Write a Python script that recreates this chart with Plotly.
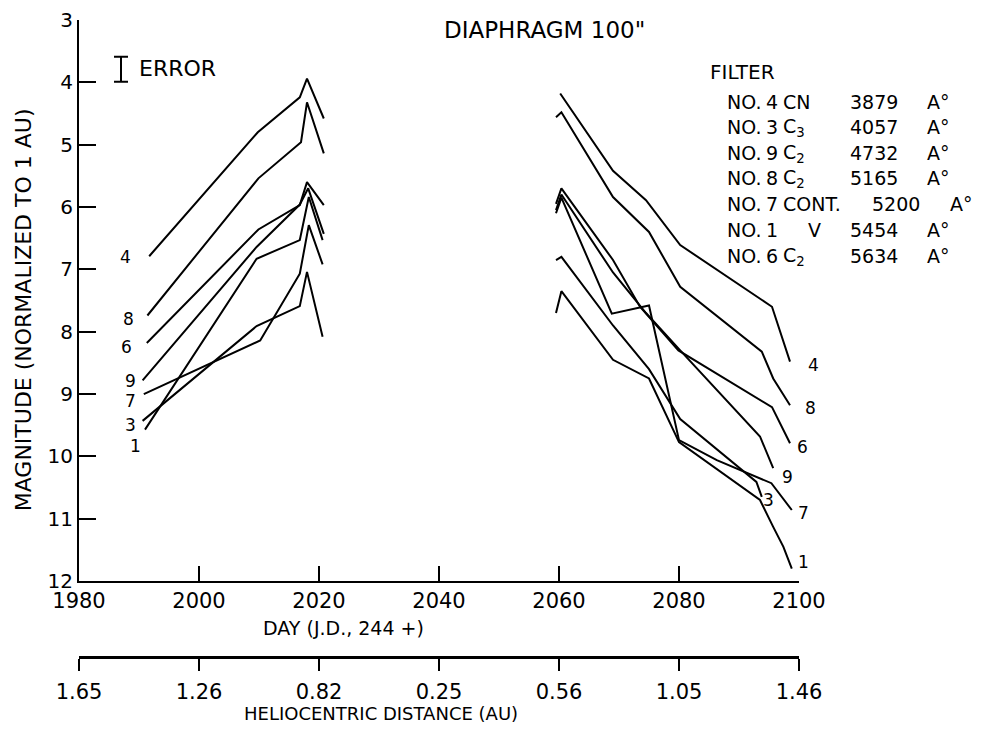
import plotly.graph_objects as go

# ---------------- data ----------------
filters = ["4", "8", "6", "9", "7", "3", "1"]

# pre-perihelion branch (day = J.D. - 2440000)
day_a_4 = [1991.7, 2009.8, 2016.8, 2018.0, 2020.8]
mag_a_4 = [6.79, 4.80, 4.24, 3.94, 4.58]
day_a_8 = [1991.4, 2009.9, 2017.0, 2018.0, 2020.8]
mag_a_8 = [7.74, 5.54, 4.96, 4.32, 5.14]
day_a_6 = [1991.3, 2009.9, 2016.8, 2018.0, 2020.8]
mag_a_6 = [8.18, 6.36, 5.97, 5.60, 5.97]
day_a_9 = [1990.6, 2009.6, 2016.8, 2018.2, 2020.8]
mag_a_9 = [8.78, 6.64, 5.96, 5.70, 6.43]
day_a_7 = [1990.8, 2010.2, 2016.8, 2018.3, 2020.6]
mag_a_7 = [9.00, 8.14, 7.07, 6.29, 6.92]
day_a_3 = [1990.6, 2009.6, 2016.8, 2018.0, 2020.6]
mag_a_3 = [9.43, 7.91, 7.59, 7.04, 8.08]
day_a_1 = [1991.0, 2009.6, 2016.8, 2018.3, 2020.6]
mag_a_1 = [9.57, 6.83, 6.53, 5.84, 6.53]

# post-perihelion branch
day_b_4 = [2060.2, 2069.0, 2074.5, 2080.2, 2095.5, 2098.5]
mag_b_4 = [4.18, 5.42, 5.89, 6.61, 7.60, 8.48]
day_b_8 = [2059.5, 2060.4, 2069.0, 2075.0, 2080.2, 2093.8, 2095.7, 2098.5]
mag_b_8 = [4.56, 4.48, 5.84, 6.40, 7.28, 8.32, 8.75, 9.18]
day_b_6 = [2059.5, 2060.4, 2069.0, 2073.5, 2079.9, 2095.5, 2098.5]
mag_b_6 = [5.95, 5.70, 6.85, 7.60, 8.30, 9.21, 9.79]
day_b_9 = [2059.5, 2060.4, 2069.0, 2074.5, 2080.2, 2093.5, 2095.7]
mag_b_9 = [6.05, 5.80, 7.05, 7.70, 8.30, 9.68, 10.19]
day_b_7 = [2059.5, 2060.4, 2068.8, 2075.0, 2080.0, 2086.3, 2095.4, 2098.8]
mag_b_7 = [6.10, 5.85, 7.71, 7.58, 9.74, 10.06, 10.43, 10.86]
day_b_3 = [2059.5, 2060.4, 2069.0, 2075.0, 2080.2, 2092.9, 2093.8]
mag_b_3 = [6.85, 6.80, 7.90, 8.60, 9.40, 10.41, 10.65]
day_b_1 = [2059.5, 2060.4, 2069.0, 2075.0, 2080.0, 2093.5, 2095.7, 2097.4, 2098.8]
mag_b_1 = [7.70, 7.35, 8.45, 8.75, 9.77, 10.70, 11.13, 11.45, 11.80]

day_ticks = [1980, 2000, 2020, 2040, 2060, 2080, 2100]
helio_labels = ["1.65", "1.26", "0.82", "0.25", "0.56", "1.05", "1.46"]
mag_ticks = [3, 4, 5, 6, 7, 8, 9, 10, 11, 12]

legend_no = ["4", "3", "9", "8", "7", "1", "6"]
legend_species = ["CN", "C<sub>3</sub>", "C<sub>2</sub>", "C<sub>2</sub>", "CONT.", "V", "C<sub>2</sub>"]
legend_wavelength = ["3879", "4057", "4732", "5165", "5200", "5454", "5634"]

error_day = [1987.0]
error_mag = [3.79]
error_half = [0.2]

# ---------------- figure ----------------
FONT = "DejaVu Sans"
INK = "black"

series_a = {
    "4": (day_a_4, mag_a_4), "8": (day_a_8, mag_a_8), "6": (day_a_6, mag_a_6),
    "9": (day_a_9, mag_a_9), "7": (day_a_7, mag_a_7), "3": (day_a_3, mag_a_3),
    "1": (day_a_1, mag_a_1),
}
series_b = {
    "4": (day_b_4, mag_b_4), "8": (day_b_8, mag_b_8), "6": (day_b_6, mag_b_6),
    "9": (day_b_9, mag_b_9), "7": (day_b_7, mag_b_7), "3": (day_b_3, mag_b_3),
    "1": (day_b_1, mag_b_1),
}

W, H = 981, 734
OFF = 8                      # page body margin of the html page
ML, MR, MT, MB = 79 - OFF, 182 + OFF, 19.5 - OFF, 50
plot_bottom = 581 - OFF
paper_w = W - ML - MR
paper_h = H - MT - MB
ydom0 = (H - MB - plot_bottom) / paper_h
helio_pos = (H - MB - (657 - OFF)) / paper_h


def px(xpage):
    return (xpage - OFF - ML) / paper_w


def py(ypage):
    return (H - MB - (ypage - OFF)) / paper_h


fig = go.Figure()
for f in filters:
    xa, ya = series_a[f]
    xb, yb = series_b[f]
    fig.add_trace(go.Scatter(
        x=list(xa) + [None] + list(xb),
        y=list(ya) + [None] + list(yb),
        mode="lines", line=dict(color=INK, width=2),
        showlegend=False, hoverinfo="skip", connectgaps=False,
    ))

# error bar symbol
fig.add_trace(go.Scatter(
    x=error_day, y=error_mag, mode="markers",
    marker=dict(size=1, color=INK),
    error_y=dict(type="data", array=error_half, color=INK, thickness=2, width=7),
    showlegend=False, hoverinfo="skip",
))

# dummy trace on the second (heliocentric) axis
fig.add_trace(go.Scatter(x=[day_ticks[0]], y=[None], xaxis="x2", yaxis="y",
                         showlegend=False, hoverinfo="skip"))

ann = []


def txt(xpage, ypage, s, size=19, xanchor="center", yanchor="middle", angle=0):
    ann.append(dict(x=px(xpage), y=py(ypage), xref="paper", yref="paper", text=s,
                    showarrow=False, font=dict(family=FONT, size=size, color=INK),
                    xanchor=xanchor, yanchor=yanchor, textangle=angle))


# line labels (pixel positions of the hand lettering)
left_lab = {"4": (125, 257), "8": (128, 319), "6": (126, 347), "9": (130, 381),
            "7": (130, 401), "3": (130, 425), "1": (135, 446)}
right_lab = {"4": (813, 365), "8": (810, 408), "6": (802, 447), "9": (787, 477),
             "3": (768, 500), "7": (803, 513), "1": (803, 562)}
for f in filters:
    txt(*left_lab[f], f, size=17)
    txt(*right_lab[f], f, size=17)

txt(544, 30, 'DIAPHRAGM 100"', size=23)
txt(137, 68, "ERROR", size=22, xanchor="left")
txt(708, 72, "FILTER", size=20, xanchor="left")

row_y = [102, 127, 153, 178, 204, 230, 256]
for i in range(len(legend_no)):
    yy = row_y[i]
    txt(725, yy, "NO.", size=19, xanchor="left")
    txt(764, yy, legend_no[i], size=19, xanchor="left")
    sx = 806 if legend_species[i] == "V" else 781
    txt(sx, yy, legend_species[i], size=19, xanchor="left")
    cont = legend_species[i] == "CONT."
    txt(870 if cont else 848, yy, legend_wavelength[i], size=19, xanchor="left")
    txt(948 if cont else 925, yy, "A°", size=19, xanchor="left")

# axis titles
txt(23, 310, "MAGNITUDE (NORMALIZED TO 1 AU)", size=22, angle=-90)
txt(343, 628, "DAY (J.D., 244 +)", size=19)
txt(381, 714, "HELIOCENTRIC DISTANCE (AU)", size=18)

fig.update_layout(
    width=W, height=H,
    margin=dict(l=ML, r=MR, t=MT, b=MB, autoexpand=False),
    paper_bgcolor="white", plot_bgcolor="white",
    font=dict(family=FONT, color=INK, size=19),
    annotations=ann,
    xaxis=dict(
        range=[1980, 2100], tickvals=day_ticks, ticktext=[str(d) for d in day_ticks],
        ticks="inside", ticklen=15, tickwidth=2, tickcolor=INK,
        showline=True, linecolor=INK, linewidth=2, showgrid=False, zeroline=False,
        tickfont=dict(family=FONT, size=21, color=INK),
        anchor="y", automargin=False,
    ),
    xaxis2=dict(
        range=[1980, 2100], tickvals=day_ticks, ticktext=helio_labels,
        overlaying="x", side="bottom", anchor="free", position=helio_pos,
        ticks="outside", ticklen=12, tickwidth=2, tickcolor=INK,
        showline=True, linecolor=INK, linewidth=2.5, showgrid=False, zeroline=False,
        tickfont=dict(family=FONT, size=21, color=INK), ticklabelstandoff=3,
        automargin=False,
    ),
    yaxis=dict(
        range=[12, 3], tickvals=mag_ticks, domain=[ydom0, 1],
        ticks="inside", ticklen=17, tickwidth=2, tickcolor=INK,
        showline=True, linecolor=INK, linewidth=2, showgrid=False, zeroline=False,
        tickfont=dict(family=FONT, size=20, color=INK),
        automargin=False,
    ),
)

fig.write_html("out.html")
